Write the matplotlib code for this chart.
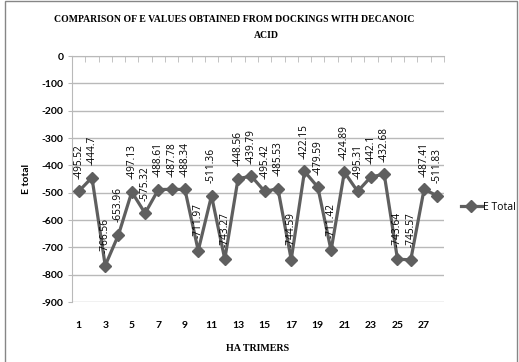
import matplotlib.pyplot as plt
from matplotlib.patches import Rectangle

# E total for each HA trimer docked with decanoic acid
trimers = list(range(1, 29))
e_total = [-495.52, -444.7, -766.56, -653.96, -497.13, -575.32, -488.61, -487.78,
           -488.34, -711.97, -511.36, -743.27, -448.56, -439.79, -495.42, -485.53,
           -744.59, -422.15, -479.59, -711.42, -424.89, -495.31, -442.1, -432.68,
           -743.64, -745.57, -487.41, -511.83]
yticks = list(range(0, -1000, -100))
xtick_labels = [str(n) for n in trimers if n % 2 == 1]

W, H = 519, 362
fig = plt.figure(figsize=(W / 100, H / 100), dpi=100)

# chart area border
fig.patches.append(Rectangle((5 / W, -0.01), 512 / W, 1 - 1 / H + 0.01,
                             transform=fig.transFigure, fill=False,
                             edgecolor='#868686', linewidth=1))

ax = fig.add_axes([72 / W, 1 - 302 / H, 372 / W, 246 / H])

line_col = '#5f5f5f'
grid_col = '#b9b9b9'
ax.plot(trimers, e_total, color=line_col, linewidth=2.3, marker='D',
        markersize=6.5, label='E Total', zorder=3)

# rotated value labels above each point
for x, y in zip(trimers, e_total):
    ax.annotate(f'{y:g}', (x, y), xytext=(0, 9), textcoords='offset points',
                rotation=90, ha='center', va='bottom', fontsize=7.3,
                family='Open Sans', color='black')

ax.set_xlim(0.5, 28.5)
ax.set_ylim(-900, 0)
ax.set_yticks(yticks)
ax.set_yticklabels([str(v) for v in yticks], fontsize=7.5, fontweight='bold',
                   family='Lato')
ax.yaxis.grid(True, color=grid_col, linewidth=1)
ax.set_axisbelow(True)
ax.tick_params(axis='y', length=3, color=grid_col, pad=3)

# category ticks sit on the zero line at the top, labels at the bottom
ax.set_xticks([n for n in trimers if n % 2 == 1])
ax.set_xticklabels(xtick_labels, fontsize=7.5, fontweight='bold', family='Lato')
ax.tick_params(axis='x', length=0, pad=14)
ax.set_xticks([n + 0.5 for n in range(0, 29)], minor=True)
ax.tick_params(axis='x', which='minor', top=True, bottom=False, direction='in',
               length=4, color=grid_col)

for side in ['right', 'bottom']:
    ax.spines[side].set_visible(False)
ax.spines['left'].set_color(grid_col)
ax.spines['top'].set_color(grid_col)

ax.set_ylabel('E total', fontsize=7.5, fontweight='bold', family='Lato', labelpad=8)
ax.set_xlabel('HA TRIMERS', fontsize=7.2, fontweight='bold',
              family='Liberation Serif', labelpad=10)

fig.text(234 / W, 1 - 19 / H, 'COMPARISON OF E VALUES OBTAINED FROM DOCKINGS WITH DECANOIC',
         ha='center', va='center', fontsize=7, fontweight='bold', family='Liberation Serif')
fig.text(266 / W, 1 - 35 / H, 'ACID', ha='center', va='center', fontsize=7,
         fontweight='bold', family='Liberation Serif')

fig.legend(loc='center left', bbox_to_anchor=(461 / W, 1 - 207 / H), frameon=False,
           handlelength=2.0, handletextpad=0.1, borderpad=0, borderaxespad=0,
           prop={'family': 'Open Sans', 'size': 7.5})

fig.savefig('out.png', dpi=100)
